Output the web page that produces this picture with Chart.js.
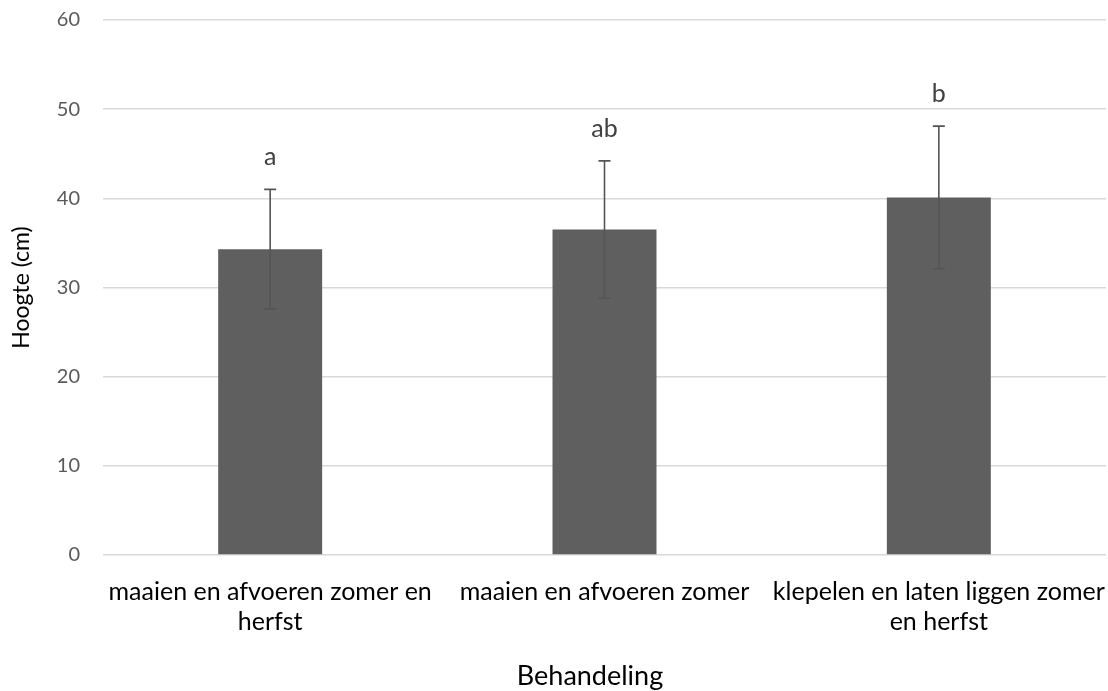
<!DOCTYPE html>
<html>
<head>
<meta charset="utf-8">
<script src="https://cdn.jsdelivr.net/npm/chart.js@4/dist/chart.umd.min.js"></script>
<style>
    html, body { margin: 0; padding: 0; background: #fff; }
    #wrap { width: 1108px; height: 691px; }
</style>
</head>
<body>
<div id="wrap"><canvas id="hoogteChart" width="1108" height="691"></canvas></div>
<script>
// Gegevens
const behandelingen = [
    ['maaien en afvoeren zomer en', 'herfst'],
    'maaien en afvoeren zomer',
    ['klepelen en laten liggen zomer', 'en herfst']
];
const hoogte = [34.3, 36.5, 40.1];
const foutmarge = [6.7, 7.7, 8.0];
const letters = ['a', 'ab', 'b'];
const yTicks = [0, 10, 20, 30, 40, 50, 60];

const FONT = 'Lato, "Open Sans", sans-serif';

// Foutbalken, letters en x-as titel tekenen
const foutbalkPlugin = {
    id: 'foutbalken',
    afterDatasetsDraw(chart) {
        const ctx = chart.ctx;
        const meta = chart.getDatasetMeta(0);
        const y = chart.scales.y;
        ctx.save();
        meta.data.forEach((bar, i) => {
            const x = bar.x;
            const top = y.getPixelForValue(hoogte[i] + foutmarge[i]);
            const bottom = y.getPixelForValue(hoogte[i] - foutmarge[i]);
            ctx.strokeStyle = '#555555';
            ctx.lineWidth = 1.6;
            ctx.beginPath();
            ctx.moveTo(x, top);
            ctx.lineTo(x, bottom);
            ctx.moveTo(x - 6, top);
            ctx.lineTo(x + 6, top);
            ctx.moveTo(x - 6, bottom);
            ctx.lineTo(x + 6, bottom);
            ctx.stroke();

            ctx.fillStyle = '#404040';
            ctx.font = '25px ' + FONT;
            ctx.textAlign = 'center';
            ctx.textBaseline = 'middle';
            ctx.fillText(letters[i], x, top - 32);
        });

        ctx.fillStyle = '#000000';
        ctx.font = '27px ' + FONT;
        ctx.textAlign = 'center';
        ctx.textBaseline = 'middle';
        ctx.fillText('Behandeling', 590, 676);
        ctx.restore();
    }
};

const ctx = document.getElementById('hoogteChart').getContext('2d');
new Chart(ctx, {
    type: 'bar',
    data: {
        labels: behandelingen,
        datasets: [{
            data: hoogte,
            backgroundColor: '#5f5f5f',
            borderWidth: 0,
            categoryPercentage: 1,
            barPercentage: 0.311
        }]
    },
    options: {
        responsive: false,
        animation: false,
        layout: { padding: { top: 20, right: 2, left: 0, bottom: 0 } },
        plugins: {
            legend: { display: false },
            tooltip: { enabled: false }
        },
        scales: {
            x: {
                grid: {
                    display: true,
                    drawOnChartArea: false,
                    drawTicks: true,
                    tickLength: 22,
                    tickColor: 'rgba(0,0,0,0)',
                    color: 'rgba(0,0,0,0)'
                },
                border: { display: false },
                ticks: {
                    color: '#000000',
                    font: { family: FONT, size: 25 },
                    padding: 0,
                    maxRotation: 0,
                    autoSkip: false
                },
                afterFit(scale) { scale.height = 136; }
            },
            y: {
                min: 0,
                max: 60,
                afterBuildTicks(scale) {
                    scale.ticks = yTicks.map(v => ({ value: v }));
                },
                grid: {
                    color: '#d9d9d9',
                    lineWidth: 1.5,
                    drawTicks: true,
                    tickLength: 23,
                    tickColor: 'rgba(0,0,0,0)'
                },
                border: { display: false },
                ticks: {
                    color: '#595959',
                    font: { family: FONT, size: 20 },
                    padding: 0
                },
                title: {
                    display: true,
                    text: 'Hoogte (cm)',
                    color: '#000000',
                    font: { family: FONT, size: 23 },
                    padding: { top: 8, bottom: 0 }
                },
                afterFit(scale) { scale.width = 103; }
            }
        }
    },
    plugins: [foutbalkPlugin]
});
</script>
</body>
</html>
